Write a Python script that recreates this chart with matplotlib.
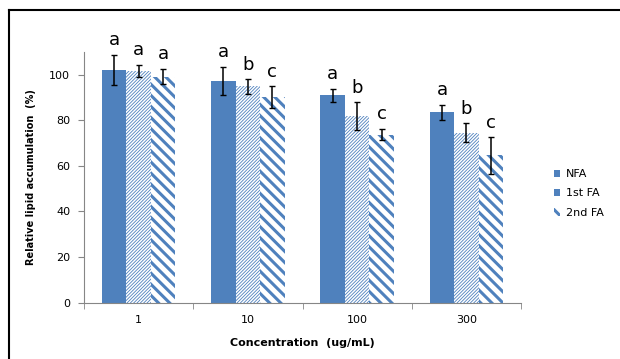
import numpy as np
import matplotlib
matplotlib.use('Agg')
import matplotlib.pyplot as plt
from matplotlib.lines import Line2D

# data
concs = ['1', '10', '100', '300']
nfa = [102.0, 97.2, 90.8, 83.4]
nfa_err = [6.6, 6.1, 2.9, 3.3]
fa1 = [101.6, 94.8, 81.8, 74.4]
fa1_err = [2.6, 3.2, 6.1, 4.2]
fa2 = [99.1, 90.1, 73.7, 64.5]
fa2_err = [3.4, 4.7, 2.5, 8.0]
letters_nfa = ['a', 'a', 'a', 'a']
letters_fa1 = ['a', 'b', 'b', 'b']
letters_fa2 = ['a', 'c', 'c', 'c']

blue = '#4F81BD'
x = np.arange(len(concs))
w = 0.224

fig = plt.figure(figsize=(6.2, 3.59), dpi=100)
ax = fig.add_axes([0.1355, 0.157, 0.705, 0.699])

ebar = dict(ecolor='black', elinewidth=1.1, capsize=2.3, capthick=1.0)

b1 = ax.bar(x - w, nfa, w, color=blue, yerr=nfa_err, error_kw=ebar, label='NFA')
plt.rcParams['hatch.linewidth'] = 0.6
b2 = ax.bar(x, fa1, w, color='white', edgecolor=blue, linewidth=0, hatch='/' * 10,
            yerr=fa1_err, error_kw=ebar, label='1st FA')
plt.rcParams['hatch.linewidth'] = 2.2
b3 = ax.bar(x + w, fa2, w, color='white', edgecolor=blue, linewidth=0, hatch='\\' * 3,
            yerr=fa2_err, error_kw=ebar, label='2nd FA')

# significance letters
for off, vals, errs, labs in [(-w, nfa, nfa_err, letters_nfa),
                              (0, fa1, fa1_err, letters_fa1),
                              (w, fa2, fa2_err, letters_fa2)]:
    for i in range(len(concs)):
        ax.annotate(labs[i], (x[i] + off, vals[i] + errs[i]), xytext=(0, 4),
                    textcoords='offset points', ha='center', va='bottom',
                    fontsize=13, annotation_clip=False)

ax.set_xlim(-0.5, 3.5)
ax.set_ylim(0, 110)
ax.set_yticks([0, 20, 40, 60, 80, 100])
ax.set_xticks(x)
ax.set_xticklabels(concs)
ax.set_xticks(np.arange(-0.5, 4, 1), minor=True)
ax.tick_params(axis='x', which='major', length=0, pad=9, labelsize=8)
ax.tick_params(axis='x', which='minor', length=4, color='#868686', direction='out')
ax.tick_params(axis='y', length=4, color='#868686', pad=6, labelsize=8)
for s in ['top', 'right']:
    ax.spines[s].set_visible(False)
ax.spines['left'].set_color('#868686')
ax.spines['bottom'].set_color('#868686')

ax.set_xlabel('Concentration  (ug/mL)', fontsize=8, fontweight='bold', labelpad=9)
ax.set_ylabel('Relative lipid accumulation  (%)', fontsize=7, fontweight='bold')
ax.yaxis.set_label_coords(-0.109, 0.5)

fig.legend(handles=[b1, b2, b3], loc='upper left', bbox_to_anchor=(0.877, 0.557),
           frameon=False, fontsize=8, handlelength=0.6, handleheight=0.6,
           handletextpad=0.5, labelspacing=0.85)

# outer frame (top and left only)
fig.add_artist(Line2D([9/620, 1.0], [1 - 10/359, 1 - 10/359], color='black', lw=1.5,
                      transform=fig.transFigure))
fig.add_artist(Line2D([9/620, 9/620], [0, 1 - 10/359], color='black', lw=1.5,
                      transform=fig.transFigure))

fig.savefig('out.png', dpi=100)
